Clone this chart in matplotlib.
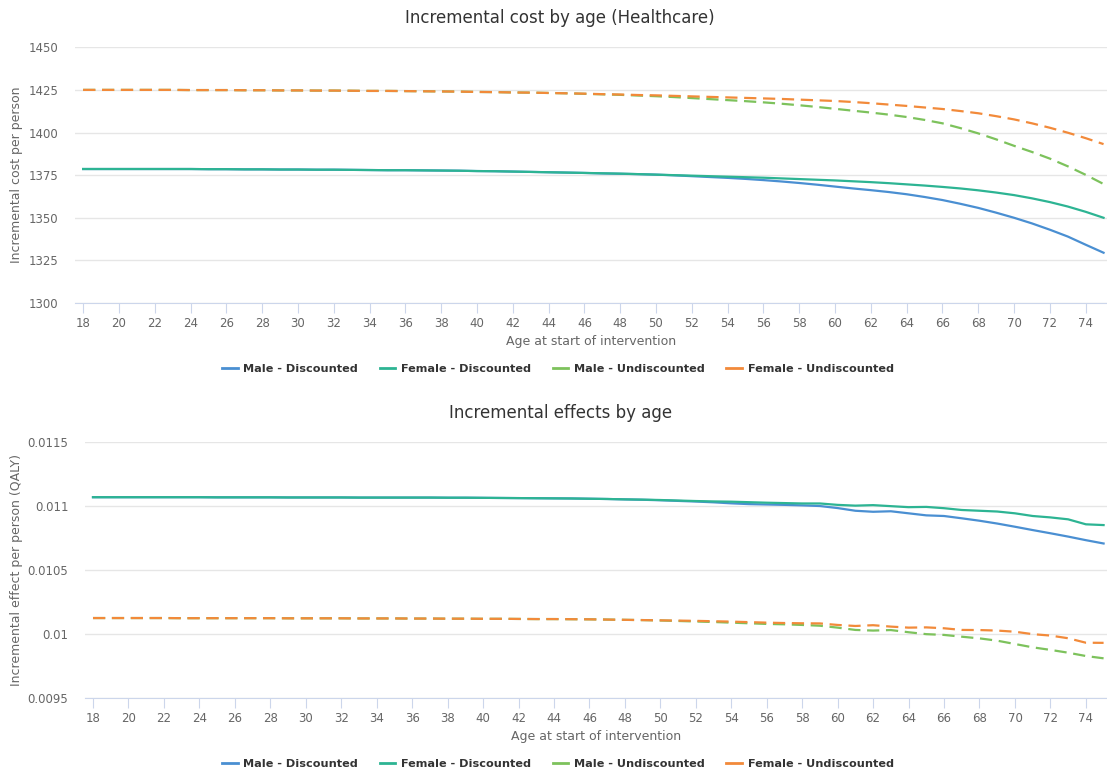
import matplotlib
matplotlib.use("Agg")
import matplotlib.pyplot as plt
from matplotlib.lines import Line2D

ages = list(range(18, 76))
series_names = ["Male - Discounted", "Female - Discounted", "Male - Undiscounted", "Female - Undiscounted"]
colors = ["#4a8fd2", "#2db493", "#7dc25c", "#f28a3a"]
styles = ["-", "-", (0, (5.5, 3)), (0, (5.5, 3))]

# incremental cost per person (Healthcare), ages 18..75 (rows: 18-27, 28-37, 38-47, 48-57, 58-67, 68-75)
cost_male_disc = [
    1378.6, 1378.6, 1378.6, 1378.6, 1378.6, 1378.6, 1378.6, 1378.5, 1378.5, 1378.4,
    1378.4, 1378.3, 1378.3, 1378.2, 1378.2, 1378.1, 1378.0, 1377.9, 1377.9, 1377.8,
    1377.7, 1377.6, 1377.4, 1377.3, 1377.1, 1376.9, 1376.7, 1376.5, 1376.3, 1376.0,
    1375.8, 1375.6, 1375.3, 1374.9, 1374.4, 1373.9, 1373.4, 1372.8, 1372.1, 1371.3,
    1370.4, 1369.4, 1368.3, 1367.2, 1366.2, 1365.1, 1363.8, 1362.2, 1360.4, 1358.2,
    1355.8, 1353.0, 1350.0, 1346.7, 1343.0, 1339.0, 1334.2, 1329.5,
]
cost_female_disc = [
    1378.6, 1378.6, 1378.6, 1378.6, 1378.6, 1378.6, 1378.6, 1378.5, 1378.5, 1378.4,
    1378.4, 1378.3, 1378.3, 1378.2, 1378.2, 1378.1, 1378.0, 1377.9, 1377.9, 1377.8,
    1377.7, 1377.6, 1377.4, 1377.3, 1377.1, 1376.9, 1376.7, 1376.5, 1376.3, 1376.1,
    1375.9, 1375.6, 1375.3, 1375.0, 1374.7, 1374.4, 1374.1, 1373.8, 1373.5, 1373.1,
    1372.7, 1372.3, 1371.9, 1371.4, 1370.9, 1370.3, 1369.6, 1368.9, 1368.1, 1367.2,
    1366.1, 1364.8, 1363.3, 1361.4, 1359.2, 1356.6, 1353.5, 1350.0,
]
cost_male_undisc = [
    1425.0, 1425.0, 1425.0, 1425.0, 1425.0, 1425.0, 1424.9, 1424.9, 1424.9, 1424.8,
    1424.8, 1424.7, 1424.7, 1424.6, 1424.6, 1424.5, 1424.4, 1424.4, 1424.3, 1424.2,
    1424.1, 1424.0, 1423.8, 1423.7, 1423.5, 1423.4, 1423.2, 1423.0, 1422.7, 1422.4,
    1422.1, 1421.7, 1421.3, 1420.8, 1420.2, 1419.6, 1419.0, 1418.4, 1417.7, 1416.9,
    1416.0, 1415.0, 1413.9, 1412.8, 1411.7, 1410.5, 1409.1, 1407.4, 1405.4, 1402.6,
    1399.5, 1396.0, 1392.2, 1388.6, 1384.7, 1380.2, 1375.2, 1369.8,
]
cost_female_undisc = [
    1425.0, 1425.0, 1425.0, 1425.0, 1425.0, 1425.0, 1424.9, 1424.9, 1424.9, 1424.8,
    1424.8, 1424.7, 1424.7, 1424.6, 1424.6, 1424.5, 1424.4, 1424.4, 1424.3, 1424.2,
    1424.1, 1424.0, 1423.8, 1423.7, 1423.5, 1423.4, 1423.2, 1423.0, 1422.8, 1422.5,
    1422.3, 1422.0, 1421.8, 1421.5, 1421.2, 1420.9, 1420.6, 1420.3, 1420.0, 1419.7,
    1419.3, 1418.9, 1418.5, 1417.9, 1417.2, 1416.4, 1415.6, 1414.7, 1413.8, 1412.6,
    1411.3, 1409.6, 1407.7, 1405.4, 1402.8, 1399.9, 1396.7, 1393.2,
]

# incremental effect per person (QALY), ages 18..75
eff_male_disc = [
    0.011070, 0.011070, 0.011070, 0.011070, 0.011070, 0.011070, 0.011070, 0.011069, 0.011069, 0.011069,
    0.011069, 0.011068, 0.011068, 0.011068, 0.011068, 0.011067, 0.011067, 0.011067, 0.011067, 0.011067,
    0.011066, 0.011066, 0.011065, 0.011064, 0.011063, 0.011062, 0.011061, 0.011060, 0.011058, 0.011056,
    0.011053, 0.011050, 0.011046, 0.011041, 0.011036, 0.011030, 0.011022, 0.011016, 0.011013, 0.011010,
    0.011006, 0.011001, 0.010985, 0.010964, 0.010956, 0.010960, 0.010944, 0.010928, 0.010923, 0.010905,
    0.010886, 0.010864, 0.010839, 0.010813, 0.010788, 0.010762, 0.010734, 0.010708,
]
eff_female_disc = [
    0.011070, 0.011070, 0.011070, 0.011070, 0.011070, 0.011070, 0.011070, 0.011069, 0.011069, 0.011069,
    0.011069, 0.011068, 0.011068, 0.011068, 0.011068, 0.011067, 0.011067, 0.011067, 0.011067, 0.011067,
    0.011066, 0.011066, 0.011065, 0.011064, 0.011063, 0.011062, 0.011061, 0.011060, 0.011058, 0.011056,
    0.011053, 0.011051, 0.011048, 0.011044, 0.011040, 0.011037, 0.011035, 0.011031, 0.011027, 0.011024,
    0.011021, 0.011021, 0.011010, 0.011004, 0.011008, 0.011000, 0.010992, 0.010994, 0.010984, 0.010970,
    0.010964, 0.010958, 0.010944, 0.010923, 0.010912, 0.010897, 0.010858, 0.010852,
]
eff_male_undisc = [
    0.010125, 0.010125, 0.010125, 0.010125, 0.010125, 0.010124, 0.010124, 0.010124, 0.010124, 0.010124,
    0.010124, 0.010123, 0.010123, 0.010123, 0.010123, 0.010122, 0.010122, 0.010122, 0.010121, 0.010121,
    0.010120, 0.010120, 0.010119, 0.010119, 0.010118, 0.010117, 0.010117, 0.010116, 0.010115, 0.010113,
    0.010111, 0.010109, 0.010106, 0.010102, 0.010098, 0.010094, 0.010089, 0.010084, 0.010079, 0.010076,
    0.010071, 0.010065, 0.010050, 0.010032, 0.010027, 0.010031, 0.010014, 0.009999, 0.009993, 0.009979,
    0.009966, 0.009948, 0.009922, 0.009896, 0.009876, 0.009854, 0.009828, 0.009810,
]
eff_female_undisc = [
    0.010125, 0.010125, 0.010125, 0.010125, 0.010125, 0.010124, 0.010124, 0.010124, 0.010124, 0.010124,
    0.010124, 0.010123, 0.010123, 0.010123, 0.010123, 0.010122, 0.010122, 0.010122, 0.010121, 0.010121,
    0.010120, 0.010120, 0.010119, 0.010119, 0.010118, 0.010117, 0.010117, 0.010116, 0.010115, 0.010113,
    0.010111, 0.010109, 0.010107, 0.010105, 0.010103, 0.010100, 0.010097, 0.010093, 0.010089, 0.010086,
    0.010084, 0.010083, 0.010071, 0.010063, 0.010069, 0.010058, 0.010050, 0.010052, 0.010045, 0.010032,
    0.010031, 0.010027, 0.010018, 0.009999, 0.009988, 0.009967, 0.009932, 0.009931,
]

cost_series = [cost_male_disc, cost_female_disc, cost_male_undisc, cost_female_undisc]
eff_series = [eff_male_disc, eff_female_disc, eff_male_undisc, eff_female_undisc]

cost_ticks = [1300, 1325, 1350, 1375, 1400, 1425, 1450]
eff_ticks = [0.0095, 0.01, 0.0105, 0.011, 0.0115]
eff_tick_labels = ["0.0095", "0.01", "0.0105", "0.011", "0.0115"]
age_ticks = list(range(18, 76, 2))

fig = plt.figure(figsize=(11.07, 7.75), dpi=100)
ax1 = fig.add_axes([0.0678, 0.609, 0.932, 0.330])
ax2 = fig.add_axes([0.0768, 0.0994, 0.923, 0.330])


def style_axis(ax, ylabel):
    ax.set_xlim(17.55, 75.18)
    ax.set_xticks(age_ticks)
    for s in ["top", "right", "left"]:
        ax.spines[s].set_visible(False)
    ax.spines["bottom"].set_color("#ccd6eb")
    ax.grid(axis="y", color="#e6e6e6", lw=1)
    ax.set_axisbelow(True)
    ax.tick_params(axis="x", colors="#ccd6eb", length=7, labelcolor="#666666", labelsize=8.5, pad=3)
    ax.tick_params(axis="y", length=0, labelcolor="#666666", labelsize=8.5, pad=12)
    ax.set_xlabel("Age at start of intervention", color="#666666", fontsize=9, labelpad=4)
    ax.set_ylabel(ylabel, color="#666666", fontsize=9)


for ax, data in [(ax1, cost_series), (ax2, eff_series)]:
    for vals, c, ls in zip(data, colors, styles):
        ax.plot(ages, vals, color=c, lw=1.6, linestyle=ls)

ax1.set_ylim(1300, 1450)
ax1.set_yticks(cost_ticks)
style_axis(ax1, "Incremental cost per person")
ax1.yaxis.set_label_coords(-0.05, 0.5)

ax2.set_ylim(0.0095, 0.0115)
ax2.set_yticks(eff_ticks)
ax2.set_yticklabels(eff_tick_labels)
style_axis(ax2, "Incremental effect per person (QALY)")
ax2.yaxis.set_label_coords(-0.061, 0.5)

fig.text(0.506, 0.977, "Incremental cost by age (Healthcare)", ha="center", va="center",
         fontsize=12, color="#333333")
fig.text(0.506, 0.467, "Incremental effects by age", ha="center", va="center",
         fontsize=12, color="#333333")

handles = [Line2D([0], [0], color=c, lw=2) for c in colors]
for y in [0.524, 0.014]:
    fig.legend(handles, series_names, loc="center", bbox_to_anchor=(0.504, y), ncol=4,
               frameon=False, handlelength=1.4, handletextpad=0.5, columnspacing=1.9,
               prop={"weight": "bold", "size": 8.1}, labelcolor="#333333")

fig.savefig("out.png", dpi=100)
